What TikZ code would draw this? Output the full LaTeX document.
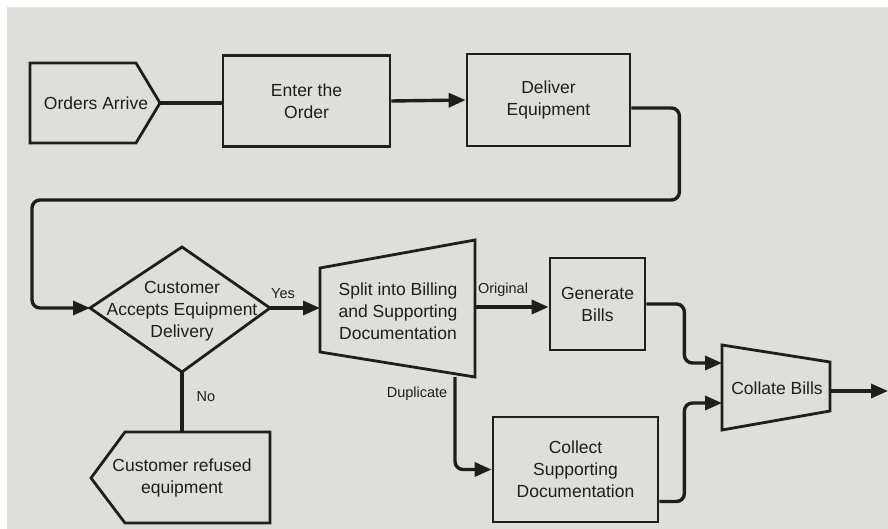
\documentclass[tikz,border=0pt]{standalone}
\usepackage{fontspec}
\setmainfont{Liberation Sans}
\usetikzlibrary{arrows.meta}
\definecolor{paper}{RGB}{222,222,219}
\definecolor{ink}{RGB}{30,30,30}
\begin{document}
\begin{tikzpicture}[x=1pt,y=-1pt,
  outline/.style={draw=ink,line width=2.8pt,line join=miter},
  flow/.style={draw=ink,line width=3.4pt,rounded corners=8pt},
  arrowflow/.style={flow,-{Triangle[length=17pt,width=14pt]}},
  lbl/.style={font=\fontsize{17.5}{22}\selectfont,text=ink,align=center,inner sep=0pt},
  tag/.style={font=\fontsize{14.5}{17}\selectfont,text=ink,inner sep=0pt},
  box/.style={outline,rectangle,lbl}
]
% paper
\useasboundingbox (0,0) rectangle (888,529);
\fill[paper] (0,0) rectangle (888,529);
\fill[white] (0,0) rectangle (888,7);
\fill[white] (0,0) rectangle (7,529);

% start: Orders Arrive (pentagon pointing right)
\draw[outline] (30,63) -- (136,63) -- (160,103) -- (136,143) -- (30,143) -- cycle;
\coordinate (ordtip) at (160,103);
\node[lbl] (orders) at (96,103) {Orders Arrive};

% process boxes
\node[box,minimum width=167pt,minimum height=91pt] (enter) at (306.5,101) {Enter the\\Order};
\node[box,minimum width=163pt,minimum height=92pt] (deliver) at (548.5,100) {Deliver\\Equipment};
\node[box,minimum width=95pt,minimum height=92pt] (generate) at (597.5,304) {Generate\\Bills};
\node[box,minimum width=165pt,minimum height=105pt] (collect) at (575.5,469.5) {Collect\\Supporting\\Documentation};

% decision
\draw[outline] (182,247) -- (270,308) -- (182,372) -- (90,308) -- cycle;
\coordinate (decW) at (90,308);
\coordinate (decE) at (270,308);
\coordinate (decS) at (182,372);
\node[lbl] (decide) at (182,311) {Customer\\Accepts Equipment\\Delivery};

% end: Customer refused equipment (pentagon pointing left)
\draw[outline] (125,432) -- (270,432) -- (270,523) -- (125,523) -- (91,478) -- cycle;
\coordinate (refN) at (182,432);
\node[lbl] (refused) at (182,478) {Customer refused\\equipment};

% split (widening trapezoid)
\draw[outline] (320,268) -- (475,240) -- (475,377) -- (320,352) -- cycle;
\coordinate (splitW) at (320,308);
\coordinate (splitE) at (475,307);
\coordinate (splitS) at (455,377);
\node[lbl] (split) at (398,311) {Split into Billing\\and Supporting\\Documentation};

% collate (narrowing trapezoid)
\draw[outline] (722,345) -- (830,362) -- (830,411) -- (722,430) -- cycle;
\coordinate (colW1) at (722,363);
\coordinate (colW2) at (722,403);
\coordinate (colE) at (830,391);
\coordinate (outEnd) at (888,391);
\node[lbl] (collate) at (777,388) {Collate Bills};

% connectors
\draw[flow,rounded corners=0pt] (ordtip) -- (ordtip -| enter.west);
\draw[arrowflow] (enter.east) -- (deliver.west);
\draw[arrowflow] ([yshift=-8pt]deliver.east) -- ++(48,0) |- (32,200) |- (decW);
\draw[arrowflow] (decE) -- (splitW);
\draw[flow] (decS) -- (refN);
\draw[arrowflow] (splitE) -- (splitE -| generate.west);
\draw[arrowflow] (splitS) |- (collect.west);
\draw[arrowflow] (generate.east) -- ++(38,0) |- (colW1);
\draw[arrowflow] ([yshift=-32pt]collect.east) -- ++(25,0) |- (colW2);
\draw[arrowflow] (colE) -- (outEnd);

% branch labels
\node[tag] (yes) at (283,294) {Yes};
\node[tag] (no) at (206,397) {No};
\node[tag] (orig) at (503,290) {Original};
\node[tag] (dup) at (417,394) {Duplicate};
\end{tikzpicture}
\end{document}
